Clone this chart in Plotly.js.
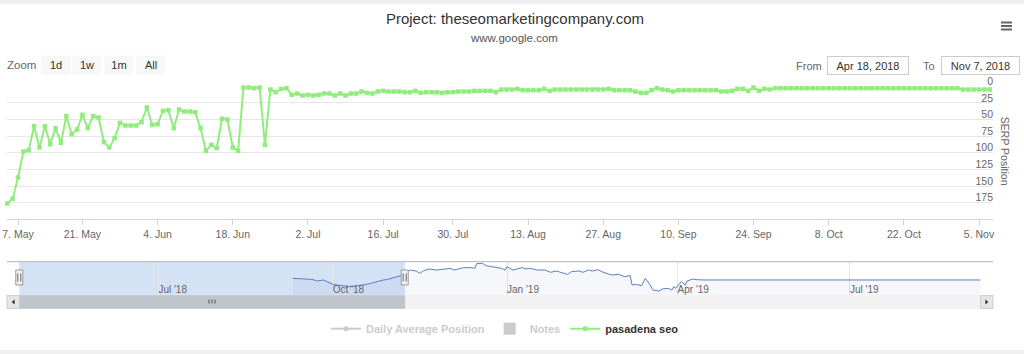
<!DOCTYPE html>
<html><head><meta charset="utf-8">
<script src="https://cdn.plot.ly/plotly-3.0.1.min.js"></script>
<style>html,body{margin:0;padding:0;background:#fff;}#chart{width:1024px;height:354px;}</style>
</head><body><div id="chart"></div>
<script>
// ---------- data ----------
const chartTitle = 'Project: theseomarketingcompany.com';
const chartSubtitle = 'www.google.com';
const seriesName = 'pasadena seo';
const startDate = '2018-05-05';
const endDate = '2018-11-07';
const missingDates = ['2018-05-12', '2018-05-13', '2018-07-22'];
const serpPositions = [
  176,169,137,98,96,60,92,60,87,63,
  85,45,72,65,43,63,45,47,84,92,
  78,55,59,59,59,54,32,58,57,37,
  36,63,35,38,38,39,63,97,88,93,
  49,50,92,97,2,2,3,2,88,5,
  9,4,3,13,11,14,13,14,13,11,
  11,14,11,14,11,11,8,10,11,8,
  7,8,8,8,9,9,7,10,9,9,
  9,10,9,9,8,8,8,7,7,7,
  7,9,5,5,5,4,6,6,6,6,
  4,7,5,5,5,5,5,5,5,5,
  5,5,4,6,6,6,6,8,10,10,
  6,3,5,6,8,6,6,6,6,6,
  6,6,6,8,8,7,4,4,7,2,
  7,4,5,3,3,3,3,3,3,3,
  3,3,3,3,3,3,3,3,3,3,
  3,3,3,3,3,3,3,3,3,3,
  3,3,3,3,3,3,3,3,5,5,
  5,5,5,5
];
const tickDates = ['2018-05-07','2018-05-21','2018-06-04','2018-06-18','2018-07-02','2018-07-16','2018-07-30','2018-08-13','2018-08-27','2018-09-10','2018-09-24','2018-10-08','2018-10-22','2018-11-05'];
const tickLabels = ['7. May','21. May','4. Jun','18. Jun','2. Jul','16. Jul','30. Jul','13. Aug','27. Aug','10. Sep','24. Sep','8. Oct','22. Oct','5. Nov'];
const yTicks = [0,25,50,75,100,125,150,175];

const navName = 'Daily Average Position';
const notesName = 'Notes';
const navDates = [
  '2018-09-10','2018-09-15','2018-09-20','2018-09-23','2018-09-26','2018-09-28',
  '2018-10-01','2018-10-03','2018-10-07','2018-10-11','2018-10-14','2018-10-17','2018-10-19','2018-10-22','2018-10-24','2018-10-27','2018-10-30',
  '2018-11-03','2018-11-06','2018-11-09','2018-11-11','2018-11-14','2018-11-16','2018-11-18','2018-11-21','2018-11-25','2018-11-30',
  '2018-12-02','2018-12-04','2018-12-07','2018-12-09','2018-12-13','2018-12-15','2018-12-16','2018-12-19','2018-12-21','2018-12-24','2018-12-26','2018-12-29','2018-12-31',
  '2019-01-01','2019-01-04','2019-01-06','2019-01-09','2019-01-11','2019-01-13','2019-01-17','2019-01-21','2019-01-24','2019-01-27','2019-01-31',
  '2019-02-02','2019-02-04','2019-02-08','2019-02-10','2019-02-13','2019-02-15','2019-02-18','2019-02-20','2019-02-23','2019-02-25',
  '2019-03-01','2019-03-04','2019-03-07','2019-03-08','2019-03-10','2019-03-13','2019-03-15','2019-03-17','2019-03-19','2019-03-22','2019-03-24','2019-03-27','2019-03-29','2019-03-30','2019-03-31',
  '2019-04-03','2019-04-05','2019-04-06','2019-04-09','2019-04-11','2019-04-15',
  '2019-06-01','2019-08-01','2019-09-08'
];
const navValues = [
  20.4,19.6,19.2,17.3,18.5,16.5,
  13.4,12.6,11.8,10.6,11.8,12.6,13.4,15,16.5,18.1,19.2,
  21.2,23.6,28.3,30.2,29.1,26.3,29.5,31.4,30.2,31,
  32.2,30.2,32.2,33,33,32.2,37.7,38.1,35.3,34.2,33,32.2,30.2,
  34.2,30.2,31.4,33,31.4,32.2,30.2,30.2,27.5,29.1,26.3,
  25.1,28.3,29.1,27.5,30.2,29.1,30.6,28.3,26.3,24.4,
  25.1,22.4,23.6,12.6,13.4,11.8,20.4,14.5,6.7,5.5,7.9,8.7,6.7,10.6,8.7,
  16.5,12.6,17.3,19.6,18.9,18.5,
  18.5,18.5,18.5
];
const fromDate = '2018-04-18';
const toDate = '2018-11-07';
const fromLabel = 'Apr 18, 2018';
const toLabel = 'Nov 7, 2018';
const navStart = '2018-04-18 14:00';
const navEnd = '2019-09-08';
const zoomButtons = ['1d','1w','1m','All'];

// ---------- helpers ----------
const W = 1024, H = 354;
const px = v => v / W;
const py = v => 1 - v / H;
const FONT = '"Liberation Sans", Arial, Helvetica, sans-serif';

function dayList(start, end, skip) {
  const out = [];
  let t = Date.parse(start + 'T00:00:00Z');
  const e = Date.parse(end + 'T00:00:00Z');
  while (t <= e) {
    const s = new Date(t).toISOString().slice(0, 10);
    if (!skip.includes(s)) out.push(s);
    t += 86400000;
  }
  return out;
}
const serpDates = dayList(startDate, endDate, missingDates);

const navDom = [px(19.3), px(980.7)];
function toMs(d) { return Date.parse(d.length > 10 ? d.replace(' ', 'T') + ':00Z' : d + 'T00:00:00Z'); }
function navPaperX(d) {
  const t0 = toMs(navStart), t1 = toMs(navEnd), t = toMs(d);
  const f = Math.max(0, Math.min(1, (t - t0) / (t1 - t0)));
  return navDom[0] + f * (navDom[1] - navDom[0]);
}
const toEnd = toDate + ' 23:59';
const thumbL = navPaperX(fromDate), thumbR = navPaperX(toEnd);

// ---------- traces ----------
const traces = [
  {type: 'scatter', x: navDates, y: navValues, xaxis: 'x2', yaxis: 'y2', mode: 'lines+markers',
   name: '<span style="color:#999">' + navName + '</span>', visible: 'legendonly',
   line: {color: '#999', width: 2}, marker: {color: '#999', size: 5}},
  {type: 'bar', x: [null], y: [null], xaxis: 'x2', yaxis: 'y2',
   name: '<span style="color:#999">' + notesName + '</span>', visible: 'legendonly', marker: {color: '#999'}},
  {type: 'scatter', x: serpDates, y: serpPositions, mode: 'lines+markers', name: seriesName,
   line: {color: '#90ed7d', width: 2}, marker: {symbol: 'square', size: 4.5, color: '#90ed7d'}, cliponaxis: false},
  {type: 'scatter', x: navDates, y: navValues, xaxis: 'x2', yaxis: 'y2', mode: 'lines', showlegend: false,
   line: {color: '#5b7fc4', width: 1}, fill: 'tozeroy', fillcolor: 'rgba(51,92,173,0.05)'}
];

// ---------- shapes ----------
const shapes = [
  {type: 'rect', xref: 'paper', yref: 'paper', x0: 0, x1: 1, y0: py(4), y1: 1, fillcolor: '#efefef', line: {width: 0}, layer: 'below'},
  {type: 'rect', xref: 'paper', yref: 'paper', x0: 0, x1: 1, y0: 0, y1: py(350), fillcolor: '#efefef', line: {width: 0}, layer: 'below'},
  {type: 'rect', xref: 'paper', yref: 'paper', x0: thumbL, x1: thumbR, y0: py(295.7), y1: py(261.7), fillcolor: 'rgba(120,165,225,0.32)', line: {width: 0}, layer: 'below'},
  {type: 'line', xref: 'paper', yref: 'paper', x0: px(7), x1: px(993), y0: py(261.7), y1: py(261.7), line: {color: '#b3b3b3', width: 1}},
  {type: 'rect', xref: 'paper', yref: 'paper', x0: px(7), x1: px(993), y0: py(308.3), y1: py(295.7), fillcolor: '#f2f2f2', line: {color: '#f2f2f2', width: 1}},
  {type: 'rect', xref: 'paper', yref: 'paper', x0: thumbL, x1: thumbR, y0: py(308.3), y1: py(295.7), fillcolor: '#c0c5cb', line: {color: '#c0c5cb', width: 1}},
  {type: 'rect', xref: 'paper', yref: 'paper', x0: px(7), x1: px(19.3), y0: py(308.3), y1: py(295.7), fillcolor: '#e6e6e6', line: {color: '#cccccc', width: 1}},
  {type: 'rect', xref: 'paper', yref: 'paper', x0: px(980.7), x1: px(993), y0: py(308.3), y1: py(295.7), fillcolor: '#e6e6e6', line: {color: '#cccccc', width: 1}},
  {type: 'path', xref: 'paper', yref: 'paper', path: 'M' + px(14.6) + ',' + py(299.5) + ' L' + px(11.6) + ',' + py(302) + ' L' + px(14.6) + ',' + py(304.5) + ' Z', fillcolor: '#333', line: {width: 0}},
  {type: 'path', xref: 'paper', yref: 'paper', path: 'M' + px(985.4) + ',' + py(299.5) + ' L' + px(988.4) + ',' + py(302) + ' L' + px(985.4) + ',' + py(304.5) + ' Z', fillcolor: '#333', line: {width: 0}}
];
// scrollbar rifles
const thumbMid = (thumbL + thumbR) / 2;
[-3, 0, 3].forEach(dx => shapes.push({type: 'line', xref: 'paper', yref: 'paper',
  x0: thumbMid + px(dx), x1: thumbMid + px(dx), y0: py(299.5), y1: py(303.5), line: {color: '#555', width: 1}}));
// navigator handles
[thumbL, thumbR].forEach(xa => {
  shapes.push({type: 'rect', xref: 'paper', yref: 'paper', x0: xa - px(3.5), x1: xa + px(3.5), y0: py(285), y1: py(270),
    fillcolor: '#f2f2f2', line: {color: '#999', width: 1}});
  [-1.5, 1.5].forEach(dx => shapes.push({type: 'line', xref: 'paper', yref: 'paper',
    x0: xa + px(dx), x1: xa + px(dx), y0: py(281.5), y1: py(273.5), line: {color: '#666', width: 1}}));
});
// context menu icon
[22.5, 26, 29.5].forEach(y => shapes.push({type: 'line', xref: 'paper', yref: 'paper', x0: px(1001), x1: px(1012), y0: py(y), y1: py(y), line: {color: '#666', width: 2}}));

// ---------- annotations ----------
const ann = [
  {text: chartSubtitle, x: px(513.5), y: py(37.7), font: {size: 11.5, color: '#555'}},
  {text: 'Zoom', x: px(21.5), y: py(65), font: {size: 11.5, color: '#666'}},
  {text: 'From', x: px(808.6), y: py(65.5), font: {size: 11, color: '#666'}},
  {text: fromLabel, x: px(868.4), y: py(65.5), width: 80, height: 17, bordercolor: '#cccccc', borderwidth: 1, borderpad: 0, bgcolor: '#fff', font: {size: 11, color: '#333'}},
  {text: 'To', x: px(928.7), y: py(65.5), font: {size: 11, color: '#666'}},
  {text: toLabel, x: px(980), y: py(65.5), width: 77, height: 17, bordercolor: '#cccccc', borderwidth: 1, borderpad: 0, bgcolor: '#fff', font: {size: 11, color: '#333'}},
  {text: 'SERP Position', x: px(1005.7), y: py(151.5), textangle: 90, font: {size: 10.5, color: '#666'}}
];
const btnCenters = [56, 87, 119, 151];
zoomButtons.forEach((b, i) => ann.push({text: b, x: px(btnCenters[i]), y: py(65), width: 28, height: 18, borderpad: 0,
  bgcolor: '#f7f7f7', font: {size: 11, color: '#333'}}));
ann.forEach(a => { a.xref = 'paper'; a.yref = 'paper'; a.showarrow = false; a.xanchor = 'center'; a.yanchor = 'middle'; });

// ---------- layout ----------
const layout = {
  width: W, height: H,
  margin: {l: 0, r: 0, t: 0, b: 0},
  paper_bgcolor: '#fff', plot_bgcolor: 'rgba(0,0,0,0)',
  font: {family: FONT, color: '#333'},
  title: {text: chartTitle, x: px(515), xanchor: 'center', y: py(19), yanchor: 'middle', font: {size: 15, color: '#333'}},
  showlegend: true,
  legend: {orientation: 'h', x: px(505), xanchor: 'center', y: py(328.7), yanchor: 'middle',
    font: {size: 11, color: '#333', weight: 'bold'}, bgcolor: 'rgba(0,0,0,0)', traceorder: 'normal'},
  xaxis: {type: 'category', domain: [px(7), px(993)], anchor: 'y', range: [-0.05, 183.6],
    tickmode: 'array', tickvals: tickDates, ticktext: tickLabels,
    ticks: 'outside', ticklen: 5, tickcolor: '#ccd6eb', showline: true, linecolor: '#ccd6eb', linewidth: 1,
    showgrid: false, zeroline: false, tickfont: {size: 10.5, color: '#666'}, fixedrange: true},
  yaxis: {domain: [py(219.4), py(86.2)], anchor: 'free', position: px(993), side: 'left', range: [200, 0],
    tickmode: 'array', tickvals: yTicks, showgrid: true, gridcolor: '#e6e6e6', gridwidth: 1,
    zeroline: false, showline: false, ticks: '', ticklabelposition: 'outside', ticklabelstandoff: 0, ticklabelshift: 5,
    tickfont: {size: 10.5, color: '#666'}, fixedrange: true},
  xaxis2: {type: 'date', domain: navDom, anchor: 'y2', range: [navStart, navEnd],
    showgrid: true, gridcolor: '#e6e6e6', tickmode: 'linear', tick0: '2018-01-01', dtick: 'M3', tickformat: "%b '%y",
    ticks: '', ticklabelposition: 'inside right', tickfont: {size: 10, color: '#666'}, showline: false, zeroline: false, fixedrange: true},
  yaxis2: {domain: [py(300.5), py(261.7)], anchor: 'x2', range: [-5.65, 40], showgrid: false, showticklabels: false,
    zeroline: false, ticks: '', fixedrange: true},
  shapes: shapes,
  annotations: ann
};

Plotly.newPlot('chart', traces, layout, {displayModeBar: false, staticPlot: true});
</script>
</body></html>
